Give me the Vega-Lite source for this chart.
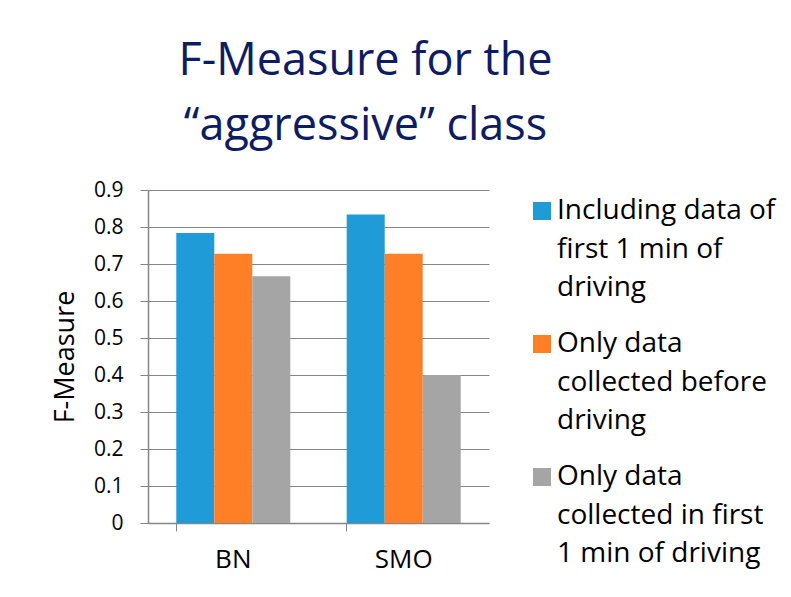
{
  "$schema": "https://vega.github.io/schema/vega-lite/v6.json",
  "autosize": "none",
  "width": 341,
  "height": 333,
  "padding": {"left": 148, "top": 190, "right": 302, "bottom": 74},
  "background": "white",
  "title": {
    "text": ["F-Measure for the", "“aggressive” class"],
    "anchor": "middle",
    "frame": "group",
    "dx": 47,
    "offset": 30,
    "font": "Open Sans",
    "fontSize": 45,
    "fontWeight": "normal",
    "lineHeight": 65,
    "color": "#0E1D62"
  },
  "data": {
    "values": [
      {"algo": "BN", "series": "Including data of|first 1 min of|driving", "value": 0.784},
      {"algo": "BN", "series": "Only data|collected before|driving", "value": 0.728},
      {"algo": "BN", "series": "Only data|collected in first|1 min of driving", "value": 0.667},
      {"algo": "SMO", "series": "Including data of|first 1 min of|driving", "value": 0.834},
      {"algo": "SMO", "series": "Only data|collected before|driving", "value": 0.728},
      {"algo": "SMO", "series": "Only data|collected in first|1 min of driving", "value": 0.400}
    ]
  },
  "mark": {"type": "bar"},
  "encoding": {
    "x": {
      "field": "algo",
      "type": "nominal",
      "scale": {"paddingInner": 0.331, "paddingOuter": 0.166},
      "axis": {
        "title": null,
        "labelAngle": 0,
        "labelFont": "Open Sans",
        "labelFontSize": 26,
        "labelColor": "#000000",
        "labelPadding": 15,
        "bandPosition": 0,
        "tickSize": 8,
        "tickColor": "#868686",
        "domainColor": "#868686",
        "domainWidth": 1.5
      }
    },
    "xOffset": {"field": "series", "type": "nominal", "sort": null},
    "y": {
      "field": "value",
      "type": "quantitative",
      "scale": {"domain": [0, 0.9], "nice": false},
      "axis": {
        "title": "F-Measure",
        "values": [0, 0.1, 0.2, 0.3, 0.4, 0.5, 0.6, 0.7, 0.8, 0.9],
        "format": ".1~f",
        "labelFont": "Open Sans",
        "labelFontSize": 21,
        "labelColor": "#000000",
        "labelPadding": 17,
        "tickSize": 8,
        "tickColor": "#868686",
        "domainColor": "#868686",
        "domainWidth": 1.5,
        "gridColor": "#868686",
        "gridWidth": 1,
        "titleFont": "Open Sans",
        "titleFontSize": 27,
        "titleFontWeight": "normal",
        "titleColor": "#000000",
        "titlePadding": 14
      }
    },
    "color": {
      "field": "series",
      "type": "nominal",
      "sort": null,
      "scale": {"range": ["#1F9BD7", "#FF7F27", "#A5A5A5"]},
      "legend": {
        "title": null,
        "orient": "none",
        "legendX": 380,
        "legendY": 7,
        "symbolType": "square",
        "symbolSize": 324,
        "symbolStrokeWidth": 0,
        "labelExpr": "split(datum.label, '|')",
        "labelFont": "Open Sans",
        "labelFontSize": 28,
        "labelColor": "#000000",
        "labelLimit": 400,
        "labelOffset": 1,
        "rowPadding": 28,
        "encode": {
          "labels": {"update": {"lineHeight": {"value": 38.5}}}
        }
      }
    }
  },
  "config": {"view": {"stroke": null}}
}
